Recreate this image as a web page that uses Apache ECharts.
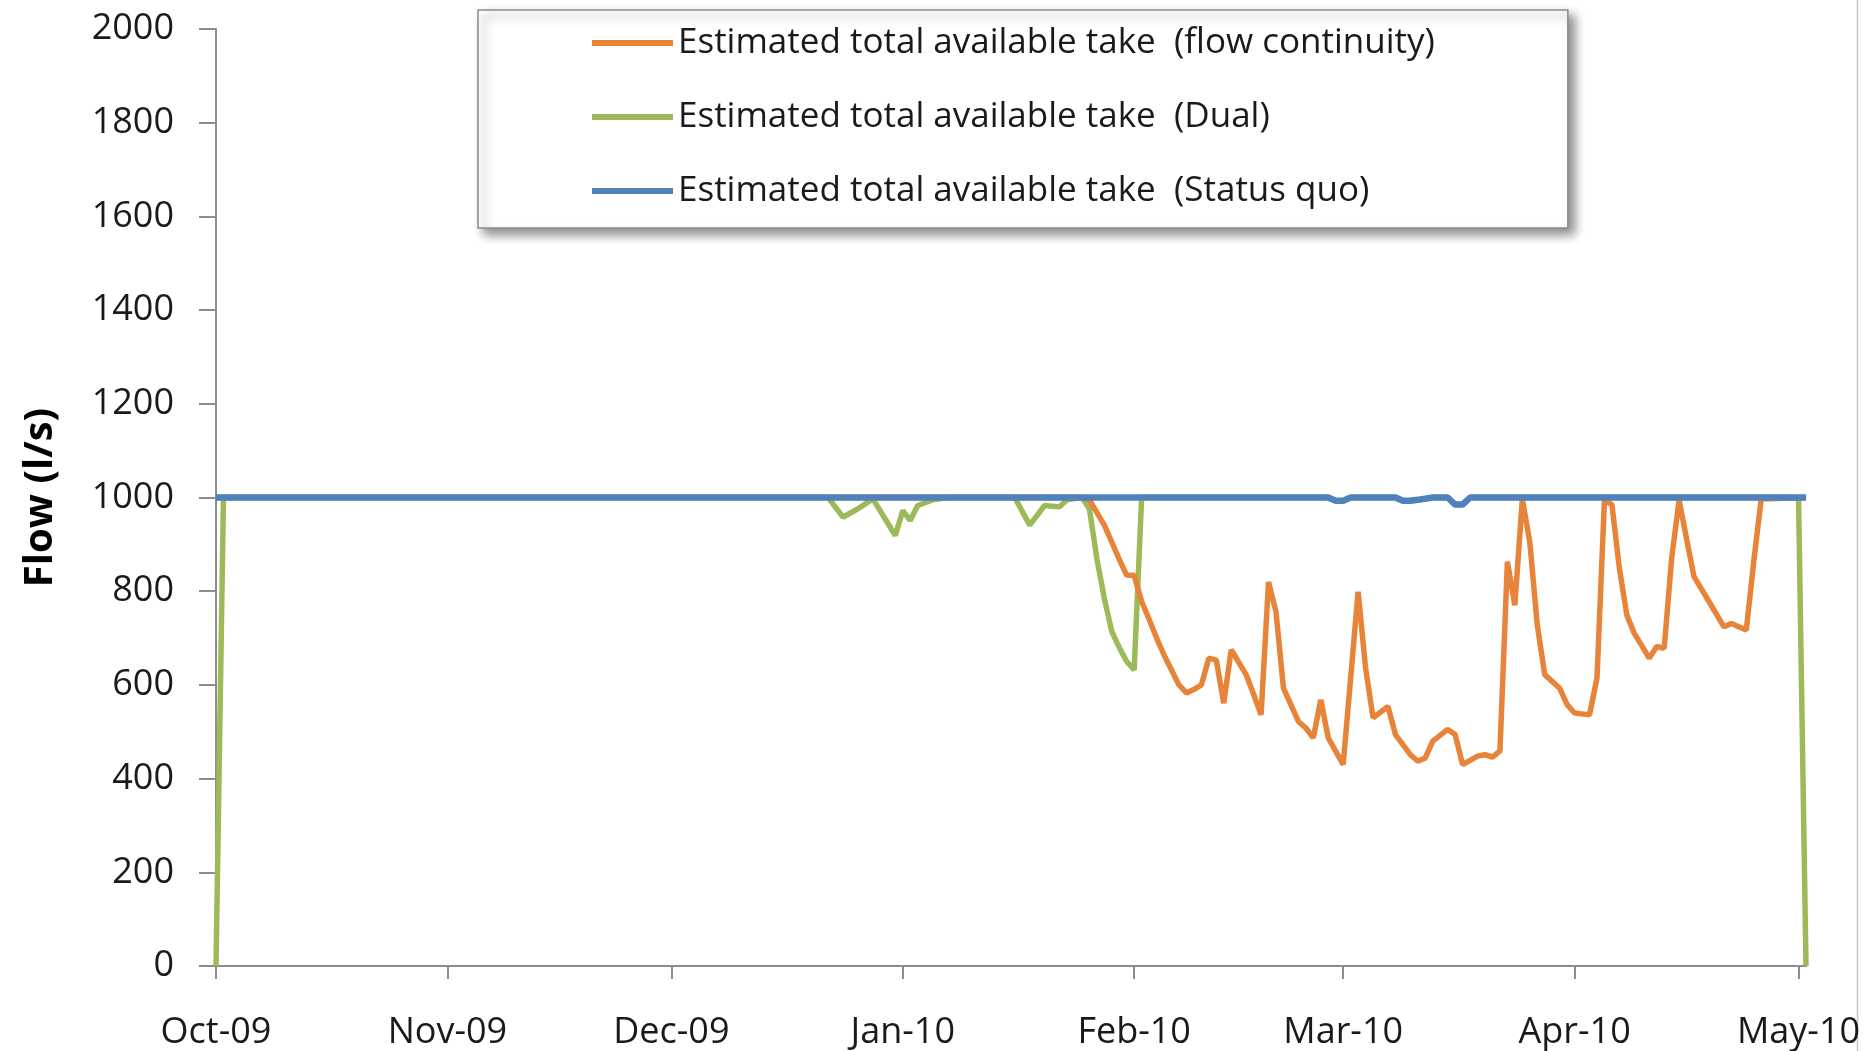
<!DOCTYPE html>
<html>
<head>
<meta charset="utf-8">
<script src="https://cdn.jsdelivr.net/npm/echarts@6/dist/echarts.min.js"></script>
<style>
html,body{margin:0;padding:0;background:#fff;}
#chart{width:1864px;height:1051px;}
</style>
</head>
<body>
<div id="chart"></div>
<script>
// ---- Data ----
const seasonStart = '2009-10-01';
const seasonEnd = '2010-05-02';

const tickDates = ['2009-10-01','2009-11-01','2009-12-01','2010-01-01','2010-02-01','2010-03-01','2010-04-01','2010-05-01'];
const tickLabels = ['Oct-09','Nov-09','Dec-09','Jan-10','Feb-10','Mar-10','Apr-10','May-10'];

const seriesNames = [
  'Estimated total available take  (flow continuity)',
  'Estimated total available take  (Dual)',
  'Estimated total available take  (Status quo)'
];

// Flow continuity
const flowContDates = ['2009-10-01','2010-01-25','2010-01-26','2010-01-28','2010-01-29','2010-01-30','2010-01-31','2010-02-01','2010-02-02','2010-02-03','2010-02-04','2010-02-05','2010-02-06','2010-02-07','2010-02-08','2010-02-09','2010-02-10','2010-02-11','2010-02-12','2010-02-13','2010-02-14','2010-02-16','2010-02-17','2010-02-18','2010-02-19','2010-02-20','2010-02-21','2010-02-23','2010-02-24','2010-02-25','2010-02-26','2010-02-27','2010-03-01','2010-03-03','2010-03-04','2010-03-05','2010-03-07','2010-03-08','2010-03-10','2010-03-11','2010-03-12','2010-03-13','2010-03-15','2010-03-16','2010-03-17','2010-03-19','2010-03-20','2010-03-21','2010-03-22','2010-03-23','2010-03-24','2010-03-25','2010-03-26','2010-03-27','2010-03-28','2010-03-30','2010-03-31','2010-04-01','2010-04-03','2010-04-04','2010-04-05','2010-04-06','2010-04-07','2010-04-08','2010-04-09','2010-04-11','2010-04-12','2010-04-13','2010-04-14','2010-04-15','2010-04-16','2010-04-17','2010-04-19','2010-04-21','2010-04-22','2010-04-24','2010-04-25','2010-04-26','2010-05-02'];
const flowContFlow = [1000,1000,995,941,905,868,834,834,778,740,700,664,632,600,583,590,600,657,653,561,675,622,580,536,820,756,593,522,508,487,568,487,430,799,636,530,554,494,451,437,444,480,505,494,430,448,451,446,459,863,770,997,905,728,622,593,558,540,536,615,994,985,849,749,710,657,682,678,870,994,912,831,778,724,731,717,863,997,1000];

// Dual
const dualDates = ['2009-10-01','2009-10-02','2009-12-22','2009-12-24','2009-12-26','2009-12-28','2009-12-31','2010-01-01','2010-01-02','2010-01-03','2010-01-05','2010-01-07','2010-01-16','2010-01-18','2010-01-20','2010-01-22','2010-01-23','2010-01-25','2010-01-26','2010-01-27','2010-01-28','2010-01-29','2010-01-30','2010-01-31','2010-02-01','2010-02-02','2010-02-27','2010-02-28','2010-03-01','2010-03-02','2010-03-08','2010-03-09','2010-03-10','2010-03-11','2010-03-13','2010-03-15','2010-03-16','2010-03-17','2010-03-18','2010-05-01','2010-05-02'];
const dualFlow = [0,1000,1000,958,976,997,919,972,951,983,995,1000,1000,941,983,980,995,1000,976,870,785,714,680,650,632,1000,1000,993,993,1000,1000,993,993,995,1000,1000,985,985,1000,1000,0];

// Status quo
const statusQuoDates = ['2009-10-01','2010-02-27','2010-02-28','2010-03-01','2010-03-02','2010-03-08','2010-03-09','2010-03-10','2010-03-11','2010-03-13','2010-03-15','2010-03-16','2010-03-17','2010-03-18','2010-05-02'];
const statusQuoFlow = [1000,1000,993,993,1000,1000,993,993,995,1000,1000,985,985,1000,1000];

// ---- Helpers ----
function utc(s){ const p = s.split('-').map(Number); return Date.UTC(p[0], p[1]-1, p[2]); }
function dayIndex(s){ return Math.round((utc(s) - utc(seasonStart)) / 86400000); }
function pairs(dates, vals){ return dates.map((d,i)=>[dayIndex(d), vals[i]]); }

const tickDays = tickDates.map(dayIndex);
const FONT = "'Open Sans', 'Liberation Sans', sans-serif";

const chart = echarts.init(document.getElementById('chart'), null, {renderer:'canvas'});
chart.setOption({
  animation: false,
  backgroundColor: '#ffffff',
  grid: { left: 216, right: 58, top: 29, bottom: 82, containLabel: false },
  legend: {
    orient: 'vertical',
    left: 478, top: 10,
    data: seriesNames,
    icon: 'rect',
    itemWidth: 81, itemHeight: 6,
    itemGap: 34,
    padding: [13, 133, 17, 114],
    backgroundColor: '#ffffff',
    borderColor: '#8a8a8a',
    borderWidth: 1.5,
    shadowBlur: 10, shadowOffsetX: 6, shadowOffsetY: 6, shadowColor: 'rgba(0,0,0,0.45)',
    textStyle: { fontFamily: FONT, fontSize: 35, color: '#1a1a1a', lineHeight: 40 }
  },
  xAxis: {
    type: 'value',
    min: 0, max: dayIndex(seasonEnd),
    splitLine: { show: false },
    axisLine: { show: true, onZero: false, lineStyle: { color: '#8c8c8c', width: 2 } },
    axisTick: { show: true, customValues: tickDays, length: 13, lineStyle: { color: '#8c8c8c', width: 2 } },
    axisLabel: {
      customValues: tickDays,
      formatter: v => tickLabels[tickDays.indexOf(v)] || '',
      margin: 49,
      fontFamily: FONT, fontSize: 36, color: '#1a1a1a'
    }
  },
  yAxis: {
    type: 'value',
    min: 0, max: 2000, interval: 200,
    name: 'Flow (l/s)',
    nameLocation: 'middle',
    nameGap: 155,
    nameTextStyle: { fontFamily: FONT, fontSize: 40, fontWeight: 'bold', color: '#000' },
    splitLine: { show: false },
    axisLine: { show: true, lineStyle: { color: '#8c8c8c', width: 2 } },
    axisTick: { show: true, length: 17, lineStyle: { color: '#8c8c8c', width: 2 } },
    axisLabel: { margin: 42, formatter: v => String(v), fontFamily: FONT, fontSize: 36, color: '#1a1a1a' }
  },
  graphic: [{
    type: 'line', silent: true,
    shape: { x1: 1857.5, y1: 0, x2: 1857.5, y2: 1051 },
    style: { stroke: '#c8c8c8', lineWidth: 1.5 }
  }],
  series: [
    {
      name: seriesNames[1], type: 'line', showSymbol: false, symbol: 'none',
      data: pairs(dualDates, dualFlow),
      lineStyle: { color: '#9BBB59', width: 5.5 }, itemStyle: { color: '#9BBB59' }, z: 2
    },
    {
      name: seriesNames[0], type: 'line', showSymbol: false, symbol: 'none',
      data: pairs(flowContDates, flowContFlow),
      lineStyle: { color: '#E8833A', width: 5.5 }, itemStyle: { color: '#E8833A' }, z: 3
    },
    {
      name: seriesNames[2], type: 'line', showSymbol: false, symbol: 'none',
      data: pairs(statusQuoDates, statusQuoFlow),
      lineStyle: { color: '#4F81BD', width: 6.5 }, itemStyle: { color: '#4F81BD' }, z: 4
    }
  ]
});
</script>
</body>
</html>
